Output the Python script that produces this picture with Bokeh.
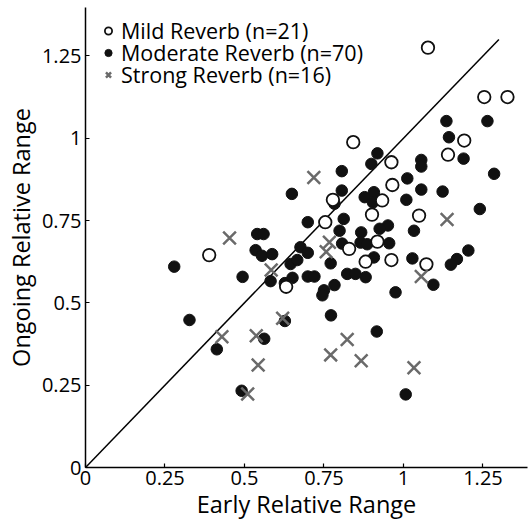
from bokeh.plotting import figure
from bokeh.models import Range1d, FixedTicker, Legend, LegendItem
from bokeh.embed import file_html
from bokeh.resources import INLINE

# ---- data ----
mild_x = [1.077, 1.254, 1.327, 1.191, 1.140, 0.842, 0.962, 0.965, 0.933, 0.778,
          0.901, 1.049, 0.754, 0.829, 0.918, 0.881, 0.962, 1.072, 0.631, 0.389]
mild_y = [1.275, 1.125, 1.125, 0.993, 0.950, 0.988, 0.927, 0.858, 0.811, 0.813,
          0.768, 0.765, 0.745, 0.664, 0.686, 0.625, 0.630, 0.617, 0.549, 0.645]

moderate_x = [1.135, 1.264, 1.143, 1.189, 0.918, 0.899, 1.056, 1.056, 0.806, 1.285,
              1.012, 0.806, 0.649, 1.056, 1.123, 0.878, 0.907, 0.904, 1.009, 0.783,
              1.240, 0.699, 0.812, 0.951, 0.925, 0.799, 0.867, 1.033, 0.540, 0.560,
              0.535, 0.807, 0.865, 0.886, 0.955, 0.676, 1.204, 1.168, 1.149, 1.028,
              0.907, 0.645, 0.666, 0.699, 0.555, 0.587, 0.771, 0.823, 0.849, 0.881,
              1.094, 0.975, 0.916, 0.494, 0.582, 0.627, 0.651, 0.699, 0.720, 0.750,
              0.745, 0.783, 0.772, 1.007, 0.562, 0.627, 0.279, 0.327, 0.413, 0.491]
moderate_y = [1.052, 1.052, 1.003, 0.938, 0.954, 0.922, 0.934, 0.914, 0.900, 0.892,
              0.878, 0.841, 0.831, 0.844, 0.838, 0.821, 0.836, 0.805, 0.813, 0.801,
              0.785, 0.745, 0.755, 0.735, 0.725, 0.719, 0.714, 0.719, 0.709, 0.709,
              0.660, 0.680, 0.683, 0.678, 0.681, 0.669, 0.659, 0.633, 0.616, 0.635,
              0.638, 0.618, 0.630, 0.652, 0.643, 0.648, 0.620, 0.588, 0.588, 0.578,
              0.555, 0.532, 0.413, 0.579, 0.566, 0.560, 0.576, 0.580, 0.580, 0.538,
              0.523, 0.554, 0.462, 0.222, 0.391, 0.445, 0.610, 0.448, 0.359, 0.233]

strong_x = [0.453, 0.718, 1.137, 0.767, 0.757, 0.429, 0.510, 0.537, 0.543, 0.584,
            1.056, 0.620, 0.823, 0.771, 0.867, 1.033]
strong_y = [0.697, 0.881, 0.753, 0.684, 0.655, 0.397, 0.223, 0.400, 0.311, 0.600,
            0.580, 0.453, 0.389, 0.342, 0.324, 0.303]

identity = [0, 1.3]
tick_values = [0, 0.25, 0.5, 0.75, 1, 1.25]
tick_labels = ["0", "0.25", "0.5", "0.75", "1", "1.25"]
legend_labels = ["Mild Reverb (n=21)", "Moderate Reverb (n=70)", "Strong Reverb (n=16)"]
x_title = "Early Relative Range"
y_title = "Ongoing Relative Range"

FONT = "Open Sans"

p = figure(width=528, height=522, output_backend="svg", toolbar_location=None,
           x_range=Range1d(0, 1.39), y_range=Range1d(0, 1.397),
           min_border_left=85, min_border_right=1, min_border_top=7, min_border_bottom=55)
p.outline_line_color = None
p.xgrid.visible = False
p.ygrid.visible = False
p.background_fill_color = "white"
p.border_fill_color = "white"

p.line(identity, identity, line_color="black", line_width=1.5)

r_mod = p.scatter(moderate_x, moderate_y, marker="circle", size=11.5,
                  fill_color="#111111", line_color="#111111")
r_mild = p.scatter(mild_x, mild_y, marker="circle", size=12.5,
                   fill_color="white", line_color="#111111", line_width=1.8)
r_str = p.scatter(strong_x, strong_y, marker="x", size=18,
                  line_color="#6a6a6a", line_width=2.5)

for ax, title in ((p.xaxis[0], x_title), (p.yaxis[0], y_title)):
    ax.ticker = FixedTicker(ticks=tick_values)
    ax.major_label_overrides = {v: l for v, l in zip(tick_values, tick_labels)}
    ax.axis_line_color = "black"
    ax.axis_line_width = 1.5
    ax.major_tick_in = 4
    ax.major_tick_out = 0
    ax.major_tick_line_width = 1.2
    ax.minor_tick_line_color = None
    ax.major_label_text_font = FONT
    ax.major_label_text_font_size = "20px"
    ax.major_label_text_color = "black"
    ax.major_label_text_line_height = 1.0
    ax.axis_label = title
    ax.axis_label_text_font = FONT
    ax.axis_label_text_font_size = "23.5px"
    ax.axis_label_text_font_style = "normal"
    ax.axis_label_text_color = "black"
    ax.axis_label_text_line_height = 1.0

p.xaxis[0].major_label_standoff = 3
p.xaxis[0].axis_label_standoff = 0
p.yaxis[0].major_label_standoff = 4
p.yaxis[0].axis_label_standoff = 2

# one single-row legend per series, stacked like the reference key
for label, rend, y0 in zip(legend_labels, [r_mild, r_mod, r_str], [422, 400, 378]):
    lg = Legend(items=[LegendItem(label=label, renderers=[rend])], location=(14, y0))
    lg.margin = 0
    lg.padding = 0
    lg.spacing = 0
    lg.glyph_width = 18
    lg.glyph_height = 23
    lg.label_height = 23
    lg.label_standoff = 4
    lg.label_text_font = FONT
    lg.label_text_font_size = "21.5px"
    lg.label_text_color = "black"
    lg.background_fill_alpha = 0
    lg.border_line_color = None
    p.add_layout(lg)

open("out.html", "w").write(file_html(p, INLINE))
